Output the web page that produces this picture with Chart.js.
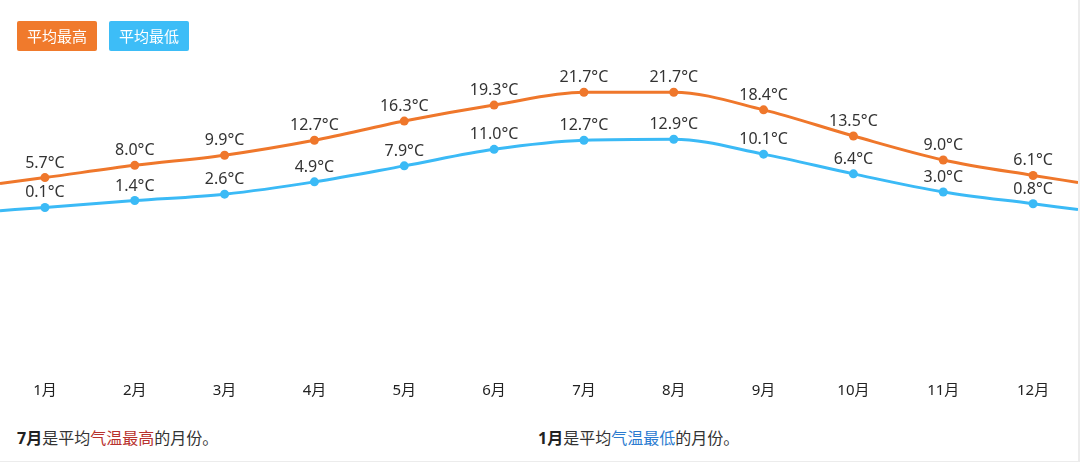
<!DOCTYPE html>
<html>
<head>
<meta charset="utf-8">
<script src="https://cdn.jsdelivr.net/npm/chart.js@4.4.1/dist/chart.umd.min.js"></script>
<style>
    html, body { margin: 0; padding: 0; background: #fff; }
    body { font-family: "Noto Sans", "Noto Sans CJK SC", sans-serif; }
    .frame {
        position: relative;
        width: 1078px;
        height: 461px;
        border-right: 2px solid #ececec;
        border-bottom: 1px solid #ececec;
        overflow: hidden;
    }
    .legend { position: absolute; left: 17px; top: 21px; display: flex; gap: 12px; z-index: 2; }
    .legend span {
        display: block;
        width: 80px;
        height: 30px;
        line-height: 30px;
        text-align: center;
        color: #fff;
        font-size: 15px;
        border-radius: 2px;
    }
    .chart-wrap { position: absolute; left: 0; top: 0; width: 1078px; height: 414px; }
    .note { position: absolute; top: 425px; font-size: 16px; color: #333; white-space: nowrap; }
    .note b { color: #222; }
    .hot { color: #b8312d; }
    .cold { color: #2b7bd0; }
</style>
</head>
<body>
<div class="frame">
    <div class="legend">
        <span style="background:#f07a2c">平均最高</span>
        <span style="background:#3dbdf7">平均最低</span>
    </div>
    <div class="chart-wrap"><canvas id="tempChart"></canvas></div>
    <div class="note" style="left:17px"><b>7月</b>是平均<span class="hot">气温最高</span>的月份。</div>
    <div class="note" style="left:538px"><b>1月</b>是平均<span class="cold">气温最低</span>的月份。</div>
</div>
<script>
// Monthly averages (°C)
const months = ['1月', '2月', '3月', '4月', '5月', '6月', '7月', '8月', '9月', '10月', '11月', '12月'];
const avgHigh = [5.7, 8.0, 9.9, 12.7, 16.3, 19.3, 21.7, 21.7, 18.4, 13.5, 9.0, 6.1];
const avgLow = [0.1, 1.4, 2.6, 4.9, 7.9, 11.0, 12.7, 12.9, 10.1, 6.4, 3.0, 0.8];

// The lines run on past Jan/Dec to the chart edges; values read where they meet the edges
const highEdges = [4.6, 4.8];
const lowEdges = [-0.5, -0.3];

const ORANGE = '#ef772b';
const BLUE = '#3bbaf6';

function toPoints(values, edges) {
    const pts = values.map((v, i) => ({ x: i + 1, y: v }));
    pts.unshift({ x: 0.5, y: edges[0] });
    pts.push({ x: months.length + 0.5, y: edges[1] });
    return pts;
}

const isEdge = ctx => ctx.dataIndex === 0 || ctx.dataIndex === months.length + 1;

// Draw "x.x°C" above every real point
const valueLabels = {
    id: 'valueLabels',
    afterDatasetsDraw(chart) {
        const ctx = chart.ctx;
        ctx.save();
        ctx.font = '16px "Noto Sans", "Open Sans", sans-serif';
        ctx.fillStyle = '#333';
        ctx.textAlign = 'center';
        ctx.textBaseline = 'alphabetic';
        chart.data.datasets.forEach((ds, di) => {
            const meta = chart.getDatasetMeta(di);
            meta.data.forEach((pt, i) => {
                if (i === 0 || i === months.length + 1) return;
                ctx.fillText(ds.data[i].y.toFixed(1) + '°C', pt.x, pt.y - 10);
            });
        });
        ctx.restore();
    }
};

new Chart(document.getElementById('tempChart'), {
    type: 'line',
    data: {
        datasets: [
            {
                label: '平均最高',
                data: toPoints(avgHigh, highEdges),
                borderColor: ORANGE,
                backgroundColor: ORANGE,
                borderWidth: 3,
                pointRadius: ctx => isEdge(ctx) ? 0 : 4.5,
                pointBorderWidth: 0,
                cubicInterpolationMode: 'monotone'
            },
            {
                label: '平均最低',
                data: toPoints(avgLow, lowEdges),
                borderColor: BLUE,
                backgroundColor: BLUE,
                borderWidth: 3,
                pointRadius: ctx => isEdge(ctx) ? 0 : 4.5,
                pointBorderWidth: 0,
                cubicInterpolationMode: 'monotone'
            }
        ]
    },
    options: {
        responsive: true,
        maintainAspectRatio: false,
        animation: false,
        layout: { padding: { top: 48, left: 0, right: 0, bottom: 0 } },
        scales: {
            x: {
                type: 'linear',
                min: 0.5,
                max: months.length + 0.5,
                afterBuildTicks: axis => {
                    axis.ticks = months.map((_, i) => ({ value: i + 1 }));
                },
                grid: { display: false, drawTicks: false },
                border: { display: false },
                ticks: {
                    padding: 14,
                    color: '#222',
                    font: { size: 15, family: '"Noto Sans", "Noto Sans CJK SC", sans-serif' },
                    callback: value => months[value - 1],
                    maxRotation: 0,
                    autoSkip: false
                }
            },
            y: {
                display: false,
                min: -30,
                max: 30
            }
        },
        plugins: {
            legend: { display: false },
            tooltip: { enabled: false }
        }
    },
    plugins: [valueLabels]
});
</script>
</body>
</html>
